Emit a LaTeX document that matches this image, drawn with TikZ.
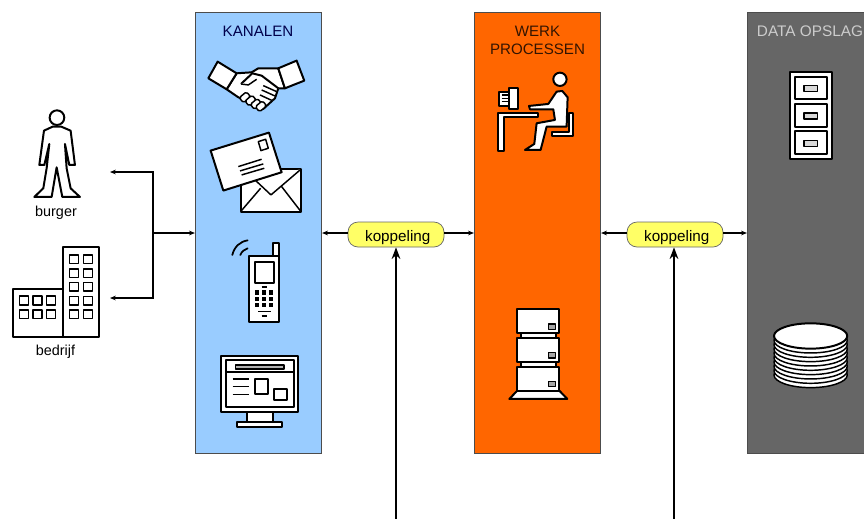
\documentclass[tikz,border=0pt]{standalone}
\usepackage{fontspec}
\setmainfont{Liberation Sans}
\usetikzlibrary{arrows.meta}
\definecolor{kanaalblauw}{HTML}{99CCFF}
\definecolor{werkoranje}{HTML}{FF6600}
\definecolor{opslaggrijs}{HTML}{666666}
\definecolor{koppelgeel}{HTML}{FFFF66}
\tikzset{
    paneel/.style={draw=black!70,line width=0.6pt,minimum width=126.5*0.03cm,minimum height=441.5*0.03cm,inner sep=0pt},
    koppelvak/.style={draw=black!60,line width=0.6pt,fill=koppelgeel,rounded corners=10*0.03cm,minimum width=96*0.03cm,minimum height=25*0.03cm,inner sep=0pt,text height=12pt,text depth=0pt,font=\fontsize{13}{14}\selectfont},
    titel/.style={inner sep=0pt,font=\fontsize{12.9}{14}\selectfont},
    onderschrift/.style={inner sep=0pt,font=\fontsize{12.3}{14}\selectfont},
    lijn/.style={line width=1.1pt,-{Stealth[length=5pt,width=4pt]}},
    buslijn/.style={line width=1.1pt,-{Stealth[length=10pt,width=7.5pt]}},
    icoon/.style={draw=black,fill=white,line width=1.7pt,line join=round},
    fijn/.style={draw=black,fill=white,line width=1.25pt,line join=round},
}
\begin{document}
\begin{tikzpicture}[x=0.03cm,y=-0.03cm]
    \useasboundingbox (0,0) rectangle (864,518);
    \clip (0,0) rectangle (864,518);

    \node[paneel,fill=kanaalblauw] (kanalen) at (258.5,233) {};
    \node[paneel,fill=werkoranje] (werk) at (537.5,233) {};
    \node[paneel,fill=opslaggrijs] (opslag) at (810.5,233) {};

    \node[titel,text=blue!30!black] (kanalentitel) at (258,31) {KANALEN};
    \node[titel,text=black!80!werkoranje] (werktitel) at (537.5,31) {WERK};
    \node[titel,text=black!80!werkoranje] (processentitel) at (537.5,49) {PROCESSEN};
    \node[titel,text=black!20,font=\fontsize{13.1}{14}\selectfont] (opslagtitel) at (810,31) {DATA OPSLAG};

    \node[koppelvak] (koppelA) at (396,234.5) {\hspace{3pt}koppeling};
    \node[koppelvak] (koppelB) at (675,234.5) {\hspace{3pt}koppeling};

    \node[onderschrift] (burger) at (56,213) {burger};
    \node[onderschrift] (bedrijf) at (55.5,352) {bedrijf};

    \coordinate (tak) at (153,233);
    \coordinate (burgerpunt) at (110,172);
    \coordinate (bedrijfpunt) at (110,298);
    \coordinate (busA) at (396,520);
    \coordinate (busB) at (674,520);

    \draw[lijn] (tak) -- (kanalen.west);
    \draw[lijn] (tak) |- (burgerpunt);
    \draw[lijn] (tak) |- (bedrijfpunt);

    \draw[lijn] (koppelA.west |- kanalen.east) -- (kanalen.east);
    \draw[lijn] (koppelA.east |- werk.west) -- (werk.west);
    \draw[lijn] (koppelB.west |- werk.east) -- (werk.east);
    \draw[lijn] (koppelB.east |- opslag.west) -- (opslag.west);

    \draw[buslijn] (busA) -- (koppelA.south);
    \draw[buslijn] (busB) -- (busB |- koppelB.south);

    % burger en bedrijf
    \begin{scope}[shift={(0,90)},x=0.01cm,y=-0.01cm]
        \draw[icoon,fill=white] (171,83) circle (22);
        \draw[icoon] (158,110) -- (132,122) -- (118,225) -- (133,225) -- (148,162) -- (140,235) -- (130,295) -- (103,321)
            -- (155,321) -- (170,232) -- (187,321) -- (240,321) -- (212,295) -- (200,235) -- (195,162) -- (208,225)
            -- (225,225) -- (212,122) -- (184,110) -- cycle;
        \draw[icoon] (188,470) rectangle (298,740);
        \draw[icoon] (38,597) rectangle (188,740);
        \foreach \x in {208,250}
            \foreach \y in {495,537,578,620,661}
                \draw[fijn] (\x,\y) rectangle +(27,25);
        \foreach \x in {58,99,140}
            \foreach \y in {619,660}
                \draw[fijn] (\x,\y) rectangle +(27,26);
    \end{scope}

    % kanalen
    \begin{scope}[shift={(195,10)},x=0.01cm,y=-0.01cm]
        \draw[icoon] (125,190) -- (170,187) -- (190,175) -- (250,175) -- (270,235) -- (250,235) -- (240,265) -- (205,297) -- (130,262) -- (95,238) -- cycle;
        \foreach \x/\y in {150/262,167/272,183/282,198/289}
            \draw[fijn,rotate around={40:(\x,\y)},rounded corners=1.5pt] (\x-14,\y-10) rectangle (\x+14,\y+10);
        \draw[icoon] (138,222) -- (172,190) -- (200,197) -- (250,235);
        \draw[fijn] (138,222) -- (160,225) -- (185,208);
        \draw[fijn] (200,240) -- (240,258) (205,227) -- (245,245) (195,255) -- (232,272);
        \draw[icoon] (68,155) -- (125,190) -- (95,238) -- (40,205) -- cycle;
        \draw[icoon] (250,175) -- (305,152) -- (328,212) -- (270,235) -- cycle;

        \draw[icoon] (137,478) rectangle (318,605);
        \draw[fijn] (180,510) -- (228,555) -- (318,478) (137,605) -- (197,535) (318,605) -- (260,530);
        \draw[icoon] (47,422) -- (222,368) -- (260,487) -- (85,542) -- cycle;
        \draw[fijn] (190,395) -- (212,388) -- (220,415) -- (198,422) -- cycle;
        \draw[fijn] (130,470) -- (200,448) (135,483) -- (205,462) (140,495) -- (208,475);
    \end{scope}

    \begin{scope}[shift={(195,225)},x=0.01cm,y=-0.01cm]
        \draw[icoon] (235,55) rectangle (253,92);
        \draw[icoon] (163,92) rectangle (253,290);
        \draw[icoon] (180,110) rectangle (236,173);
        \draw[fijn] (200,186) -- (216,186) (190,259) -- (227,259) (200,273) -- (216,273);
        \foreach \x in {187,208,229}
            \foreach \y in {203,222,241}
                \fill[black] (\x-6.5,\y-6.5) rectangle (\x+6.5,\y+6.5);
        \draw[line width=1.5pt,line cap=round] (112,90) .. controls (118,65) and (135,50) .. (158,46);
        \draw[line width=1.5pt,line cap=round] (136,90) .. controls (140,80) and (148,73) .. (158,70);

        \draw[icoon] (155,555) rectangle (235,592);
        \draw[icoon] (126,590) rectangle (262,606);
        \draw[icoon] (78,392) rectangle (310,560);
        \draw[icoon] (93,406) rectangle (296,547);
        \draw[icoon] (93,442) -- (296,442);
        \draw[fijn,fill=black!30] (122,420) rectangle (267,432);
        \draw[fijn] (113,462) -- (163,462) (113,485) -- (163,485) (113,508) -- (163,508);
        \draw[icoon] (180,462) rectangle (218,508);
        \draw[icoon] (236,491) rectangle (275,524);
    \end{scope}

    % werk processen
    \begin{scope}[shift={(475,10)},x=0.01cm,y=-0.01cm]
        \draw[icoon] (255,208) circle (20);
        \draw[icoon] (295,310) -- (295,378) -- (230,378) -- (230,365) -- (283,365) -- (283,310) -- cycle;
        \draw[icoon] (262,243) -- (278,262) -- (275,350) -- (215,350) -- (197,420) -- (150,420) -- (178,402) -- (185,340)
            -- (240,330) -- (235,298) -- (165,298) -- (162,288) -- (220,282) -- (245,245) -- cycle;
        \draw[icoon] (70,308) -- (188,308) -- (188,322) -- (88,322) -- (88,422) -- (70,422) -- cycle;
        \draw[icoon] (72,245) rectangle (103,288);
        \draw[fijn] (80,255) -- (98,255) (80,265) -- (98,265) (80,275) -- (98,275);
        \draw[icoon] (103,235) rectangle (130,297);
    \end{scope}

    \begin{scope}[shift={(490,300)},x=0.01cm,y=-0.01cm]
        \draw[icoon] (93,100) rectangle (198,115);
        \draw[icoon] (93,187) rectangle (198,201);
        \draw[icoon] (82,272) -- (208,272) -- (232,297) -- (58,297) -- cycle;
        \foreach \y/\z in {28/100,115/187,201/272}
            \draw[icoon] (82,\y) rectangle (208,\z);
        \foreach \y in {72,158,244}
            \draw[fijn,fill=black!35] (175,\y) rectangle +(22,16);
    \end{scope}

    % data opslag
    \begin{scope}[shift={(744,10)},x=0.01cm,y=-0.01cm]
        \draw[icoon] (137,186) rectangle (263,447);
        \foreach \y in {200,282,364}
            \draw[icoon] (152,\y) rectangle +(96,68);
        \foreach \y in {227,309,391}
            \draw[fijn,fill=black!15] (180,\y) rectangle +(40,18);
    \end{scope}

    \begin{scope}[shift={(744,300)},x=0.01cm,y=-0.01cm]
        \foreach \y in {225,212,199,186,173,160,147,134,121}
            \draw[fijn] (200,\y) ellipse [x radius=110,y radius=38];
        \draw[icoon] (200,108) ellipse [x radius=110,y radius=38];
    \end{scope}
\end{tikzpicture}
\end{document}
